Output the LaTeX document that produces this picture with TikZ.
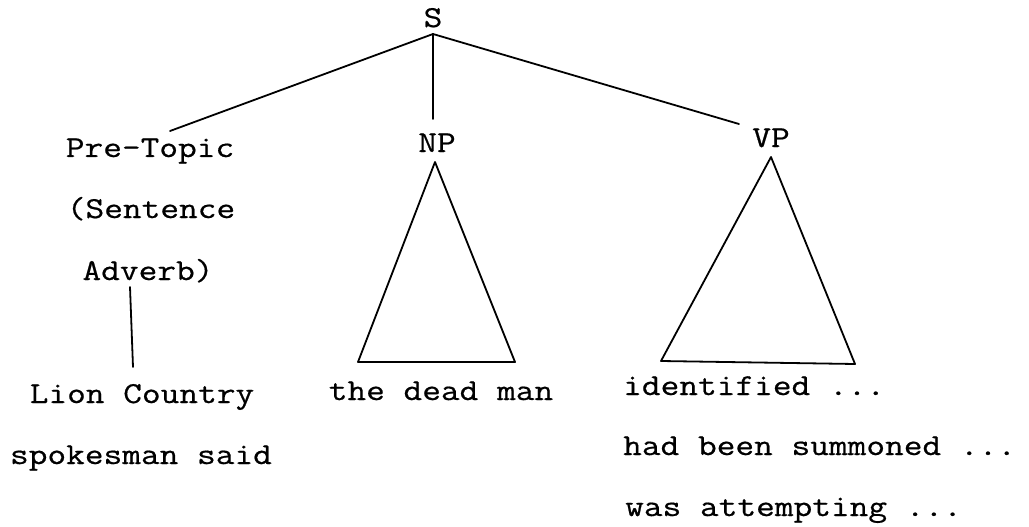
\documentclass[tikz,border=0pt]{standalone}
\usepackage{fontspec}
\newfontfamily\typefont{Latin Modern Mono}[FakeStretch=1.195,FakeBold=0.6]
\begin{document}
\begin{tikzpicture}[x=1pt,y=-1pt,
  lbl/.style={font=\typefont\fontsize{30.4}{30.4}\selectfont, inner sep=0pt, anchor=base},
  lblw/.style={lbl, anchor=base west},
  edge/.style={line width=1.8pt, line join=round, line cap=round}]
\useasboundingbox (0,0) rectangle (1029,527);
% labels
\node[lbl] (S) at (433,27) {S};
\node[lbl] (pre) at (150,157) {Pre-Topic};
\node[lbl] (sent) at (151,218) {(Sentence};
\node[lbl] (adv) at (148,280) {Adverb)};
\node[lbl] (lion) at (142,403) {Lion Country};
\node[lbl] (spok) at (141,464) {spokesman said};
\node[lbl] (NP) at (437,152) {NP};
\node[lbl] (dead) at (441,400) {the dead man};
\node[lbl] (VP) at (771,147) {VP};
\node[lblw] (ident) at (623,395) {identified ...};
\node[lblw] (summ) at (623,455) {had been summoned ...};
\node[lblw] (att) at (625,516) {was attempting ...};
% connector points
\coordinate (Stop) at (433,34);
\coordinate (preTop) at (170,131);
\coordinate (npTop) at (433,119);
\coordinate (vpTop) at (739,124);
\coordinate (advBot) at (130,287);
\coordinate (lionTop) at (133,367);
\coordinate (npA) at (435,162);
\coordinate (npL) at (358,362);
\coordinate (npR) at (515,362);
\coordinate (vpA) at (771,157);
\coordinate (vpL) at (661,361);
\coordinate (vpR) at (855,364);
% branches
\draw[edge] (Stop) -- (preTop);
\draw[edge] (Stop) -- (npTop);
\draw[edge] (Stop) -- (vpTop);
\draw[edge] (advBot) -- (lionTop);
\draw[edge] (npA) -- (npL) -- (npR) -- cycle;
\draw[edge] (vpA) -- (vpL) -- (vpR) -- cycle;
\end{tikzpicture}
\end{document}
